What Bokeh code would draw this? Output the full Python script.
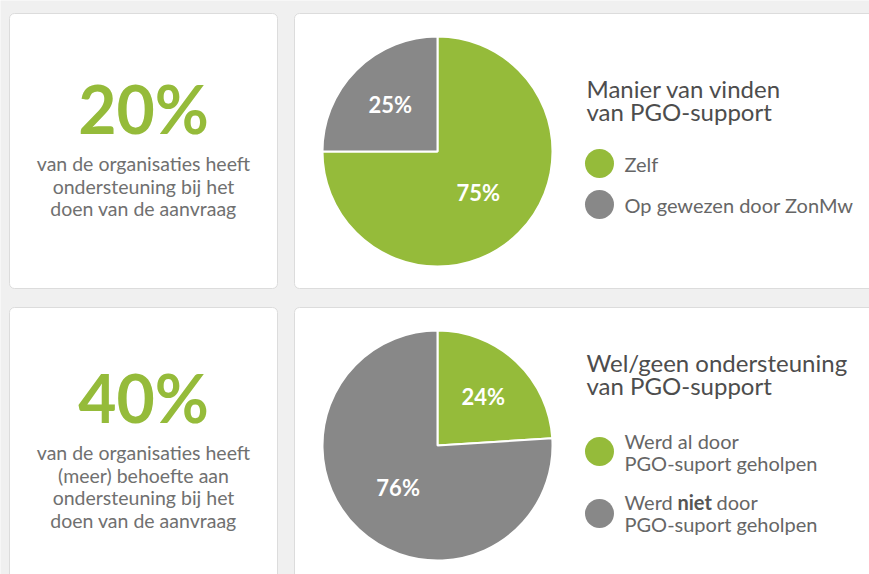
import numpy as np
from bokeh.plotting import figure
from bokeh.models import Range1d, ColumnDataSource
from bokeh.core.properties import value
from bokeh.embed import file_html
from bokeh.resources import INLINE

# ---------------- data ----------------
stat_values = ["20%", "40%"]
stat_captions = [
    ["van de organisaties heeft", "ondersteuning bij het", "doen van de aanvraag"],
    ["van de organisaties heeft", "(meer) behoefte aan", "ondersteuning bij het", "doen van de aanvraag"],
]

pie1_title = ["Manier van vinden", "van PGO-support"]
pie1_categories = ["Zelf", "Op gewezen door ZonMw"]
pie1_values = [75, 25]

pie2_title = ["Wel/geen ondersteuning", "van PGO-support"]
pie2_categories = ["Werd al door PGO-suport geholpen", "Werd niet door PGO-suport geholpen"]
pie2_values = [24, 76]

GREEN = "#95bb3a"
GRAY = "#888888"
colors = [GREEN, GRAY]
FONT = "Lato"

W, H = 869, 574

def fx(px):
    return px

def fy(py):
    return H - py

p = figure(width=W, height=H, output_backend="svg", toolbar_location=None,
           x_range=Range1d(0, W), y_range=Range1d(0, H), min_border=0)
p.axis.visible = False
p.grid.visible = False
p.outline_line_color = None
p.background_fill_color = "#f0f0f0"
p.border_fill_color = "#f0f0f0"

# ---------------- cards ----------------
cards = [(9, 277, 13, 288), (294, 900, 13, 288), (9, 277, 307, 600), (294, 900, 307, 600)]
p.quad(left=[fx(c[0]) for c in cards], right=[fx(c[1]) for c in cards],
       top=[fy(c[2]) for c in cards], bottom=[fy(c[3]) for c in cards],
       fill_color="white", line_color="#dcdcdc", line_width=1, border_radius=5)

# ---------------- stat cards ----------------
stat_centers_y = [108, 397]
caption_first = [163, 452]
for i, val in enumerate(stat_values):
    p.text(x=[fx(143)], y=[fy(stat_centers_y[i])], text=[val], text_align="center",
           text_baseline="middle", text_font=value(FONT), text_font_style="bold",
           text_font_size="66px", text_color=GREEN)
    caps = stat_captions[i]
    p.text(x=[fx(143)] * len(caps), y=[fy(caption_first[i] + 22.5 * k) for k in range(len(caps))],
           text=caps, text_align="center", text_baseline="middle", text_font=value(FONT),
           text_font_size="19.5px", text_color="#707070")

# ---------------- pies ----------------
R = 115
def draw_pie(values, cy):
    vals = np.array(values, dtype=float)
    frac = vals / vals.sum()
    cum = np.concatenate([[0], np.cumsum(frac)])
    start = np.pi / 2 - cum[:-1] * 2 * np.pi
    end = np.pi / 2 - cum[1:] * 2 * np.pi
    src = ColumnDataSource(dict(x=[fx(437)] * len(vals), y=[fy(cy)] * len(vals),
                                start=start, end=end, color=colors[:len(vals)]))
    p.wedge(x="x", y="y", radius=R, start_angle="start", end_angle="end",
            direction="clock", fill_color="color", line_color="white", line_width=2, source=src)
    mid = (start + end) / 2
    lr = np.where(frac > 0.5, 0.5, 0.58) * R
    p.text(x=fx(437) + lr * np.cos(mid), y=fy(cy) + lr * np.sin(mid),
           text=[f"{int(v)}%" for v in vals], text_align="center", text_baseline="middle",
           text_font=value(FONT), text_font_style="bold", text_font_size="22px",
           text_color="white")

draw_pie(pie1_values, 151)
draw_pie(pie2_values, 445)

# ---------------- legends ----------------
def title(lines, y0):
    p.text(x=[fx(586)] * len(lines), y=[fy(y0 + 23 * k) for k in range(len(lines))], text=lines,
           text_align="left", text_baseline="middle", text_font=value(FONT),
           text_font_size="24px", text_color="#4d4d4d")

title(pie1_title, 88)
title(pie2_title, 362)

# legend markers
p.scatter(x=[fx(599)] * 2, y=[fy(163), fy(204)], size=29, marker="circle",
          fill_color=colors, line_color=None)
p.scatter(x=[fx(599)] * 2, y=[fy(451), fy(513)], size=29, marker="circle",
          fill_color=colors, line_color=None)

LEG = dict(text_align="left", text_baseline="middle", text_font=value(FONT),
           text_font_size="20px", text_color="#666666")
p.text(x=[fx(624)] * 2, y=[fy(163), fy(204)], text=pie1_categories, **LEG)

l1 = pie2_categories[0].split(" PGO")
p.text(x=[fx(624)] * 2, y=[fy(440), fy(462)], text=[l1[0], "PGO" + l1[1]], **LEG)
l2 = pie2_categories[1].split(" PGO")
w2 = l2[0].split(" ")  # Werd, niet, door
p.text(x=[fx(624)], y=[fy(501)], text=[w2[0]], **LEG)
p.text(x=[fx(677)], y=[fy(501)], text=[w2[1]], **{**LEG, "text_font_style": "bold", "text_color": "#555555"})
p.text(x=[fx(716)], y=[fy(501)], text=[w2[2]], **LEG)
p.text(x=[fx(624)], y=[fy(523)], text=["PGO" + l2[1]], **LEG)

open("out.html", "w").write(file_html(p, INLINE))
